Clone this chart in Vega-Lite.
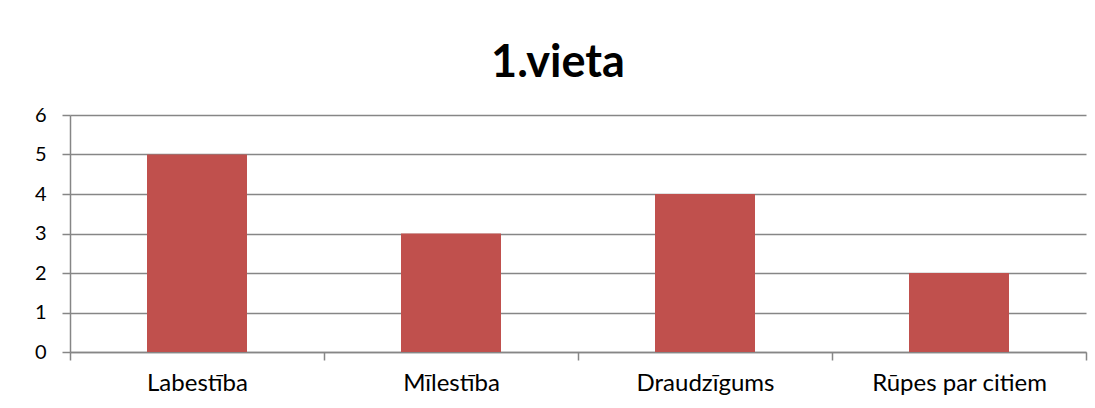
{
  "$schema": "https://vega.github.io/schema/vega-lite/v6.json",
  "autosize": "none",
  "width": 1016,
  "height": 237,
  "padding": {"left": 70, "top": 115, "right": 9, "bottom": 56},
  "background": "white",
  "title": {"text": "1.vieta", "font": "Lato", "fontSize": 45, "fontWeight": "bold", "color": "black", "anchor": "middle", "offset": 19, "dx": -20},
  "data": {"values": [
    {"kategorija": "Labestība", "vertiba": 5},
    {"kategorija": "Mīlestība", "vertiba": 3},
    {"kategorija": "Draudzīgums", "vertiba": 4},
    {"kategorija": "Rūpes par citiem", "vertiba": 2}
  ]},
  "mark": {"type": "bar", "color": "#C0504D", "size": 100},
  "encoding": {
    "x": {"field": "kategorija", "type": "nominal", "sort": null,
      "scale": {"paddingInner": 0, "paddingOuter": 0},
      "axis": {"title": null, "labelAngle": 0, "labelFont": "Lato", "labelFontSize": 24, "labelColor": "black", "labelPadding": 11,
        "tickBand": "extent", "tickSize": 8, "tickColor": "#868686", "domainColor": "#868686", "domainWidth": 1.5, "tickWidth": 1.5}},
    "y": {"field": "vertiba", "type": "quantitative",
      "scale": {"domain": [0, 6]},
      "axis": {"title": null, "values": [0,1,2,3,4,5,6], "labelFont": "Lato", "labelFontSize": 20, "labelColor": "black", "labelPadding": 16,
        "tickSize": 8, "tickColor": "#868686", "domainColor": "#868686", "domainWidth": 1.5, "tickWidth": 1.5,
        "grid": true, "gridColor": "#868686", "gridWidth": 1.5}}
  },
  "config": {"view": {"stroke": null}}
}
